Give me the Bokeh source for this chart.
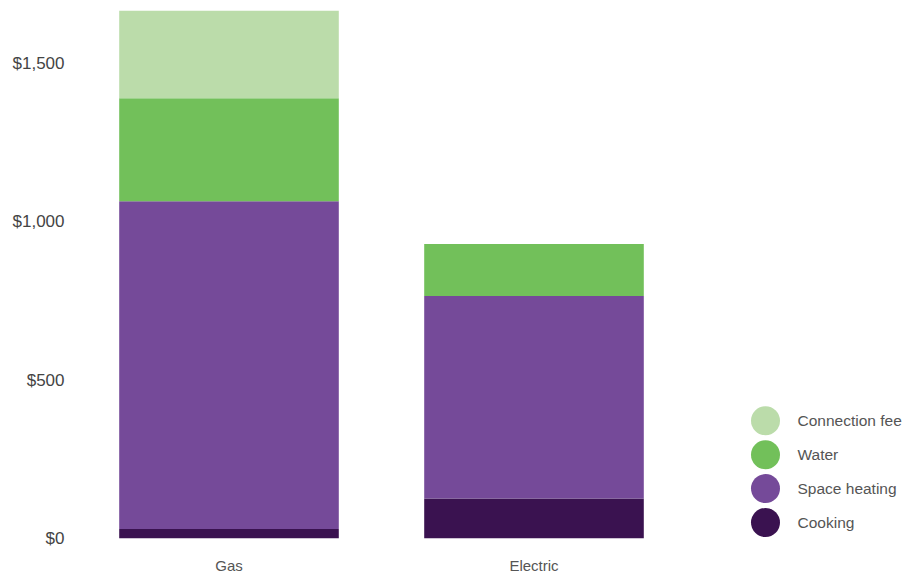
from bokeh.plotting import figure
from bokeh.models import ColumnDataSource, FactorRange, Range1d, FixedTicker, NumeralTickFormatter
from bokeh.layouts import row
from bokeh.embed import file_html
from bokeh.resources import INLINE
from bokeh.core.properties import value

# ---- data ----
categories = ["Gas", "Electric"]
series = ["Cooking", "Space heating", "Water", "Connection fee"]
cooking = [30, 126]
space_heating = [1035, 640]
water = [325, 164]
connection_fee = [277, 0]
colors = ["#3a1250", "#754a99", "#72c05a", "#bbdcaa"]
y_ticks = [0, 500, 1000, 1500]

FONT = "Liberation Sans"

source = ColumnDataSource(dict(
    cat=categories,
    **{"Cooking": cooking, "Space heating": space_heating,
       "Water": water, "Connection fee": connection_fee}))

p = figure(x_range=FactorRange(*categories, range_padding=0),
           y_range=Range1d(0, 1699),
           width=686, height=576, output_backend="svg", toolbar_location=None,
           min_border_left=76, min_border_right=0, min_border_top=0, min_border_bottom=37)
p.vbar_stack(series, x="cat", width=0.72, color=colors, line_color=None, source=source)

p.outline_line_color = None
p.xgrid.visible = False
p.ygrid.visible = False

p.yaxis.ticker = FixedTicker(ticks=y_ticks)
p.yaxis.formatter = NumeralTickFormatter(format="$0,0")
p.yaxis.axis_line_color = None
p.yaxis.major_tick_line_color = None
p.yaxis.minor_tick_line_color = None
p.yaxis.major_tick_out = 0
p.yaxis.major_tick_in = 0
p.yaxis.major_label_standoff = 12
p.yaxis.major_label_text_font = FONT
p.yaxis.major_label_text_font_size = "17px"
p.yaxis.major_label_text_color = "#444444"

p.xaxis.axis_line_color = None
p.xaxis.major_tick_line_color = None
p.xaxis.minor_tick_line_color = None
p.xaxis.major_tick_out = 0
p.xaxis.major_tick_in = 0
p.xaxis.major_label_standoff = 18
p.xaxis.major_label_text_font = FONT
p.xaxis.major_label_text_font_size = "15px"
p.xaxis.major_label_text_color = "#555555"

# ---- legend panel (own small figure, items stacked in series order) ----
leg = figure(x_range=Range1d(0, 217), y_range=Range1d(-0.47, 15.38),
             width=217, height=576, output_backend="svg", toolbar_location=None,
             min_border_left=0, min_border_right=0, min_border_top=0, min_border_bottom=37)
n = len(series)
leg_src = ColumnDataSource(dict(name=series, color=colors, pos=list(range(n)),
                                mx=[79] * n, tx=[111] * n))
leg.scatter(x="mx", y="pos", size=29, color="color", line_color=None, source=leg_src)
leg.text(x="tx", y="pos", text="name", source=leg_src, text_baseline="middle",
         text_font=value(FONT), text_font_size="15.5px", text_color="#555555")
leg.axis.visible = False
leg.grid.visible = False
leg.outline_line_color = None

layout = row(p, leg)
open("out.html", "w").write(file_html(layout, INLINE))
